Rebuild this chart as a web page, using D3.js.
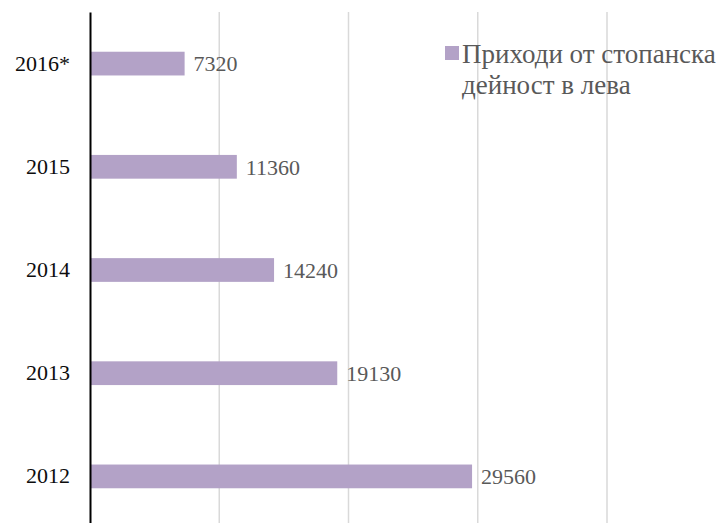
<!DOCTYPE html>
<html>
<head>
<meta charset="utf-8">
<script src="https://cdn.jsdelivr.net/npm/d3@7"></script>
<style>
  body { margin: 0; background: #fff; }
  text { font-family: "Liberation Serif", serif; }
</style>
</head>
<body>
<div id="container"></div>
<script>
/* DATA */
const years = ["2016*", "2015", "2014", "2013", "2012"];
const values = [7320, 11360, 14240, 19130, 29560];
const ticks = [0, 10000, 20000, 30000, 40000];
const legendLines = ["Приходи от стопанска", "дейност в лева"];

const width = 727, height = 523;
const margin = {top: 12, left: 90};

const svg = d3.select("#container").append("svg")
  .attr("width", width)
  .attr("height", height);

// SCALES
const xScale = d3.scaleLinear()
  .domain([0, 40000])
  .range([margin.left, margin.left + 517]);

const yScale = d3.scaleBand()
  .domain(years)
  .range([margin.top, margin.top + 516])
  .paddingInner(0.77)
  .paddingOuter(0.385);

// gridlines
svg.selectAll("line.grid")
  .data(ticks.slice(1))
  .join("line")
  .attr("class", "grid")
  .attr("x1", d => xScale(d)).attr("x2", d => xScale(d))
  .attr("y1", margin.top).attr("y2", height)
  .attr("stroke", "#d9d9d9")
  .attr("stroke-width", 1.5);

// bars
svg.selectAll("rect.bar")
  .data(years)
  .join("rect")
  .attr("class", "bar")
  .attr("x", xScale(0))
  .attr("y", d => yScale(d))
  .attr("width", (d, i) => xScale(values[i]) - xScale(0))
  .attr("height", yScale.bandwidth())
  .attr("fill", "#b3a2c7");

// value labels
svg.selectAll("text.val")
  .data(years)
  .join("text")
  .attr("class", "val")
  .attr("x", (d, i) => xScale(values[i]) + 9)
  .attr("y", d => yScale(d) + yScale.bandwidth() / 2)
  .attr("dy", "0.35em")
  .attr("font-size", 22)
  .attr("fill", "#595959")
  .text((d, i) => values[i]);

// y axis
const yAxis = d3.axisLeft(yScale).tickSize(0).tickPadding(20);
const gy = svg.append("g")
  .attr("transform", `translate(${xScale(0)},0)`)
  .call(yAxis);
gy.select(".domain").attr("stroke", "#000").attr("stroke-width", 2);
gy.selectAll("text")
  .attr("font-size", 22)
  .attr("fill", "#0d0d0d")
  .style("font-family", "Liberation Serif, serif");

// legend
const lg = svg.append("g").attr("transform", "translate(445,46)");
lg.append("rect").attr("width", 14).attr("height", 14).attr("fill", "#b3a2c7");
lg.selectAll("text")
  .data(legendLines)
  .join("text")
  .attr("x", 17)
  .attr("y", (d, i) => 17 + i * 31)
  .attr("font-size", 27)
  .attr("fill", "#595959")
  .text(d => d);
</script>
</body>
</html>
